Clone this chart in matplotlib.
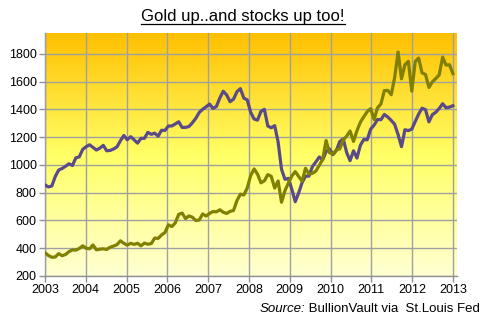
import numpy as np
import matplotlib
matplotlib.use("Agg")
import matplotlib.pyplot as plt
from matplotlib.colors import LinearSegmentedColormap
from matplotlib.lines import Line2D

plt.rcParams['font.family'] = ['Liberation Sans', 'DejaVu Sans']

# Month-end values, Jan 2003 .. Dec 2012
gold = [367.5, 347.5, 334.9, 336.8, 361.4, 346.0, 354.8, 375.6, 388.0, 386.3, 398.4, 417.3,
        399.8, 395.9, 423.7, 388.5, 393.3, 395.8, 391.4, 407.3, 415.7, 425.6, 453.4, 435.6,
        422.2, 435.5, 427.5, 435.7, 417.3, 437.1, 429.0, 433.3, 473.3, 470.8, 495.7, 513.0,
        568.8, 556.0, 582.0, 644.0, 653.0, 613.5, 632.5, 623.5, 599.3, 603.8, 646.7, 632.0,
        650.5, 664.2, 661.8, 677.0, 659.1, 650.5, 665.5, 672.0, 743.0, 789.5, 783.5, 833.8,
        923.3, 971.5, 933.5, 871.0, 885.8, 930.3, 918.0, 833.0, 884.5, 730.8, 814.5, 869.8,
        919.5, 952.0, 916.5, 883.3, 975.5, 934.5, 939.0, 955.5, 995.8, 1040.0, 1175.8, 1087.5,
        1078.5, 1108.3, 1115.5, 1179.3, 1207.5, 1244.0, 1169.0, 1246.0, 1307.0, 1346.8, 1383.5, 1405.5,
        1327.0, 1411.0, 1439.0, 1535.5, 1536.5, 1505.5, 1628.5, 1813.5, 1620.0, 1722.0, 1746.0, 1531.0,
        1744.0, 1770.0, 1662.5, 1651.3, 1558.0, 1598.5, 1622.0, 1648.5, 1776.0, 1719.0, 1721.5, 1657.5]

stocks = [855.7, 841.2, 848.2, 916.9, 963.6, 974.5, 990.3, 1008.0, 996.0, 1050.7, 1058.2, 1111.9,
          1131.1, 1144.9, 1126.2, 1107.3, 1120.7, 1140.8, 1101.7, 1104.2, 1114.6, 1130.2, 1173.8, 1211.9,
          1181.3, 1203.6, 1180.6, 1156.9, 1191.5, 1191.3, 1234.2, 1220.3, 1228.8, 1207.0, 1249.5, 1248.3,
          1280.1, 1280.7, 1294.9, 1310.6, 1270.1, 1270.2, 1276.7, 1303.8, 1335.9, 1377.9, 1400.6, 1418.3,
          1438.2, 1406.8, 1420.9, 1482.4, 1530.6, 1503.4, 1455.3, 1474.0, 1527.3, 1549.4, 1481.1, 1468.4,
          1378.6, 1330.6, 1322.7, 1385.6, 1400.4, 1280.0, 1267.4, 1282.8, 1166.4, 968.8, 896.2, 903.3,
          825.9, 735.1, 797.9, 872.8, 919.1, 919.3, 987.5, 1020.6, 1057.1, 1036.2, 1095.6, 1115.1,
          1073.9, 1104.5, 1169.4, 1186.7, 1089.4, 1030.7, 1101.6, 1049.3, 1141.2, 1183.3, 1180.6, 1257.6,
          1286.1, 1327.2, 1325.8, 1363.6, 1345.2, 1320.6, 1292.3, 1218.9, 1131.4, 1253.3, 1247.0, 1257.6,
          1312.4, 1365.7, 1408.5, 1397.9, 1310.3, 1362.2, 1379.3, 1406.6, 1440.7, 1412.2, 1416.2, 1426.2]

years = list(range(2003, 2014))
yticks = [200, 400, 600, 800, 1000, 1200, 1400, 1600, 1800]

x = np.linspace(2003, 2013, len(gold))

fig = plt.figure(figsize=(4.86, 3.22), dpi=100)
fig.patch.set_facecolor('white')
ax = fig.add_axes([45/486, 46/322, 412/486, 243/322])

xlim = (2003, 2013.1)
ylim = (200, 1950)
cmap = LinearSegmentedColormap.from_list('bg', [(0.0, '#FFFFD2'), (0.5, '#FFFF66'), (1.0, '#FFC000')])
grad = np.linspace(0, 1, 256).reshape(-1, 1)
ax.imshow(grad, aspect='auto', cmap=cmap, origin='lower',
          extent=[xlim[0], xlim[1], ylim[0], ylim[1]], zorder=0)

ax.plot(x, stocks, color='#5A4A8A', lw=2.3, zorder=3, solid_joinstyle='round')
ax.plot(x, gold, color='#7F7F00', lw=2.3, zorder=4, solid_joinstyle='round')

ax.set_xlim(*xlim)
ax.set_ylim(*ylim)
ax.set_xticks(years)
ax.set_yticks(yticks)
ax.set_xticklabels([str(y) for y in years])
ax.set_yticklabels([str(v) for v in yticks])
ax.grid(True, color='#A0A0A0', lw=1.0, zorder=1)
ax.set_axisbelow(False)
for s in ['top', 'right']:
    ax.spines[s].set_visible(False)
for s in ['left', 'bottom']:
    ax.spines[s].set_color('#909090')
    ax.spines[s].set_linewidth(1.0)
ax.tick_params(axis='both', colors='#909090', labelcolor='black', labelsize=9,
               length=4, width=1.0, direction='out', pad=2)
for gl in ax.get_xgridlines() + ax.get_ygridlines():
    gl.set_zorder(1)

t = fig.text(0.5, 1 - 17/322, 'Gold up..and stocks up too!', ha='center', va='center',
             fontsize=12, color='black')
fig.canvas.draw()
bb = t.get_window_extent()
uy = bb.y0 + 1
fig.add_artist(Line2D([bb.x0 / fig.bbox.width, bb.x1 / fig.bbox.width],
                      [uy / fig.bbox.height, uy / fig.bbox.height],
                      color='black', lw=0.9, transform=fig.transFigure))

t2 = fig.text(480/486, 1 - 309/322, ' BullionVault via  St.Louis Fed', ha='right', va='center',
              fontsize=9.5, color='black')
fig.canvas.draw()
bb2 = t2.get_window_extent()
fig.text(bb2.x0 / fig.bbox.width, 1 - 309/322, 'Source:', ha='right', va='center',
         fontsize=9.5, style='italic', color='black')

fig.savefig('out.png', dpi=100)
